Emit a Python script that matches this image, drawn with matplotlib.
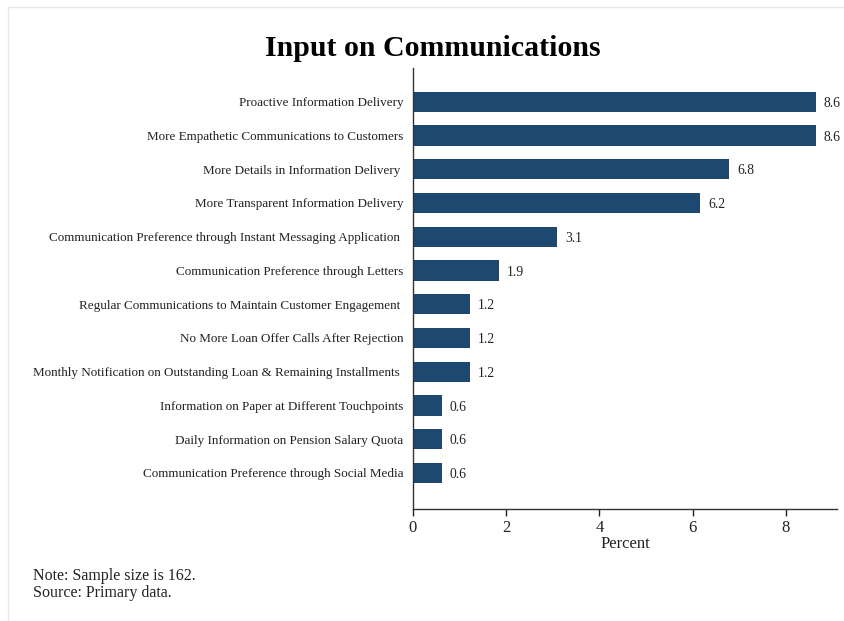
import matplotlib
matplotlib.use("Agg")
import matplotlib.pyplot as plt
from matplotlib.lines import Line2D

categories = [
    "Proactive Information Delivery",
    "More Empathetic Communications to Customers",
    "More Details in Information Delivery ",
    "More Transparent Information Delivery",
    "Communication Preference through Instant Messaging Application ",
    "Communication Preference through Letters",
    "Regular Communications to Maintain Customer Engagement ",
    "No More Loan Offer Calls After Rejection",
    "Monthly Notification on Outstanding Loan & Remaining Installments ",
    "Information on Paper at Different Touchpoints",
    "Daily Information on Pension Salary Quota",
    "Communication Preference through Social Media",
]
values = [8.64, 8.64, 6.79, 6.17, 3.09, 1.85, 1.23, 1.23, 1.23, 0.62, 0.62, 0.62]
xticks = [0, 2, 4, 6, 8]

plt.rcParams['font.family'] = ['Liberation Serif', 'DejaVu Serif']

fig = plt.figure(figsize=(8.45, 6.21), dpi=100)
ax = fig.add_axes([413/845, 1 - 509/621, (837-413)/845, (509-68)/621])

color = '#1d4870'
pos = list(range(len(categories)))
ax.barh(pos, values, height=0.6, color=color)
for p, v in zip(pos, values):
    ax.text(v + 0.17, p + 0.05, f"{v:.1f}", va='center', ha='left', fontsize=9.8, color='#222222')

ax.set_ylim(len(categories) - 1 + 1.07, -1.0)
ax.set_xlim(0, 9.1)
ax.set_yticks(pos)
ax.set_yticklabels(categories, fontsize=9.45, color='#222222')
ax.tick_params(axis='y', length=0, pad=7)
ax.set_xticks(xticks)
ax.set_xticklabels([str(t) for t in xticks], fontsize=12)
ax.tick_params(axis='x', length=5, width=1, direction='out', pad=3, colors='#222222')
ax.set_xlabel("Percent", fontsize=12, labelpad=0, color='#222222')
for s in ['top', 'right']:
    ax.spines[s].set_visible(False)
for s in ['left', 'bottom']:
    ax.spines[s].set_linewidth(1.0)
    ax.spines[s].set_color('#333333')

fig.text(433/845, 1 - 48/621, "Input on Communications", ha='center', va='center',
         fontsize=21.5, fontweight='bold')
fig.text(33/845, 1 - 576/621, "Note: Sample size is 162.", ha='left', va='center', fontsize=11.5, color='#222222')
fig.text(33/845, 1 - 593/621, "Source: Primary data.", ha='left', va='center', fontsize=11.5, color='#222222')

# faint frame
fig.add_artist(Line2D([8/845, 8/845], [0, 1 - 7/621], transform=fig.transFigure, color='#e8e8e8', lw=1))
fig.add_artist(Line2D([8/845, 1], [1 - 7/621, 1 - 7/621], transform=fig.transFigure, color='#e8e8e8', lw=1))

fig.savefig("out.png", dpi=100)
